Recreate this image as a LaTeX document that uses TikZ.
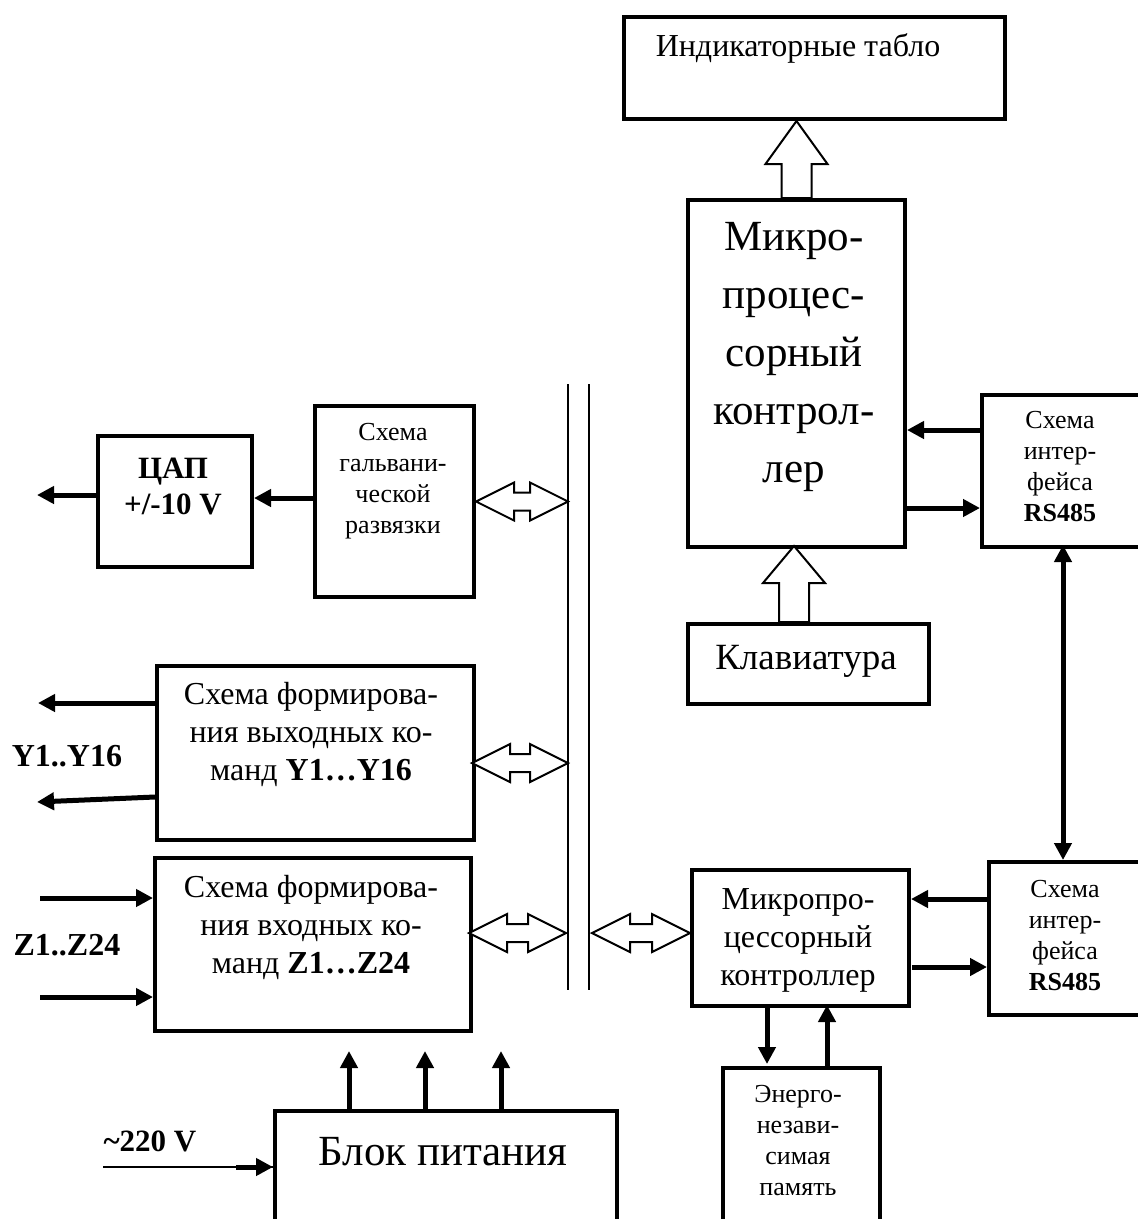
\documentclass[tikz,border=0pt]{standalone}
\usepackage{fontspec}
\setmainfont{Liberation Serif}
\usetikzlibrary{arrows.meta,calc}
\tikzset{
 box/.style={draw, line width=4pt, inner sep=0pt, anchor=north west},
 lbl/.style={inner sep=0pt, align=center},
 thickarr/.style={line width=5pt, -{Triangle[length=17pt,width=17pt]}},
 dblarr/.style={line width=5pt, {Triangle[length=17pt,width=17pt]}-{Triangle[length=17pt,width=17pt]}},
 hollow/.style={draw, line width=2pt, fill=white, line join=miter},
 busline/.style={line width=2pt},
}
\newcommand\fsz[2]{\fontsize{#1}{#2}\selectfont}
\newcommand\hollowH[2]{%
\draw[hollow] (#1) -- ($(#1)+(38,-19)$) -- ($(#1)+(38,-9)$) -- ($(#2)+(-38,-9)$) -- ($(#2)+(-38,-19)$) -- (#2) -- ($(#2)+(-38,19)$) -- ($(#2)+(-38,9)$) -- ($(#1)+(38,9)$) -- ($(#1)+(38,19)$) -- cycle;}
\newcommand\hollowU[3]{%
\draw[hollow] (#1) -- ($(#1)+(31,#3)$) -- ($(#1)+(15,#3)$) -- ($(#2)+(15,0)$) -- ($(#2)+(-15,0)$) -- ($(#1)+(-15,#3)$) -- ($(#1)+(-31,#3)$) -- cycle;}
\begin{document}
\begin{tikzpicture}[x=1pt,y=-1pt]
\useasboundingbox[fill=white] (0,0) rectangle (1138,1219);
\clip (0,0) rectangle (1138,1219);

% boxes
\node[box, minimum width=381pt, minimum height=102pt] (tablo) at (622,15) {};
\node[box, minimum width=217pt, minimum height=347pt] (mc) at (686,198) {};
\node[box, minimum width=241pt, minimum height=80pt] (kbd) at (686,622) {};
\node[box, minimum width=170pt, minimum height=152pt] (rs1) at (980,393) {};
\node[box, minimum width=159pt, minimum height=191pt] (gal) at (313,404) {};
\node[box, minimum width=154pt, minimum height=131pt] (dac) at (96,434) {};
\node[box, minimum width=317pt, minimum height=174pt] (ybox) at (155,664) {};
\node[box, minimum width=316pt, minimum height=173pt] (zbox) at (153,856) {};
\node[box, minimum width=217pt, minimum height=136pt] (mc2) at (690,868) {};
\node[box, minimum width=165pt, minimum height=153pt] (rs2) at (987,860) {};
\node[box, minimum width=157pt, minimum height=180pt] (mem) at (721,1066) {};
\node[box, minimum width=342pt, minimum height=140pt] (pwr) at (273,1109) {};

% texts
\node[lbl, font=\fsz{32}{38}] (tabloT) at (798,48) {Индикаторные табло};
\node[lbl, font=\fsz{43}{58}] (mcT) at (794,357) {Микро-\\процес-\\сорный\\контрол-\\лер};
\node[lbl, font=\fsz{37}{44}] (kbdT) at (806,661) {Клавиатура};
\node[lbl, font=\fsz{26}{31}] (rs1T) at (1060,467) {Схема\\интер-\\фейса\\\textbf{RS485}};
\node[lbl, font=\fsz{26}{31}] (galT) at (393,481) {Схема\\гальвани-\\ческой\\развязки};
\node[lbl, font=\bfseries\fsz{31}{36}] (dacT) at (173,486) {ЦАП\\+/-10 V};
\node[lbl, font=\fsz{32}{38}] (yT) at (311,734) {Схема формирова-\\ния выходных ко-\\манд \textbf{Y1…Y16}};
\node[lbl, font=\fsz{32}{38}] (zT) at (311,927) {Схема формирова-\\ния входных ко-\\манд \textbf{Z1…Z24}};
\node[lbl, font=\fsz{32}{38}] (mc2T) at (798,940) {Микропро-\\цессорный\\контроллер};
\node[lbl, font=\fsz{26}{31}] (rs2T) at (1065,936) {Схема\\интер-\\фейса\\\textbf{RS485}};
\node[lbl, font=\fsz{26}{31}] (memT) at (798,1141) {Энерго-\\незави-\\симая\\память};
\node[lbl, font=\fsz{43}{50}] (pwrT) at (443,1152) {Блок питания};
\node[lbl, font=\bfseries\fsz{32}{38}] (yL) at (67,756) {Y1..Y16};
\node[lbl, font=\bfseries\fsz{32}{38}] (zL) at (67,945) {Z1..Z24};
\node[lbl, font=\bfseries\fsz{31}{36}] (vL) at (150,1141) {\textasciitilde220 V};

% bus
\coordinate (busLt) at (568,384);
\coordinate (busLb) at (568,990);
\coordinate (busRt) at (589,384);
\coordinate (busRb) at (589,990);
\draw[busline] (busLt) -- (busLb);
\draw[busline] (busRt) -- (busRb);

% hollow arrows
\coordinate (h1t) at (mc.north |- tablo.south);
\hollowU{h1t}{mc.north}{43}
\coordinate (h2t) at (794,546);
\coordinate (h2b) at (794,622);
\hollowU{h2t}{h2b}{37}
\coordinate (gA) at (gal.east);
\coordinate (gB) at (gal.east -| busLt);
\hollowH{gA}{gB}
\coordinate (yA) at (472,763);
\coordinate (yB) at (568,763);
\hollowH{yA}{yB}
\coordinate (zA) at (469,933);
\coordinate (zB) at (566,933);
\hollowH{zA}{zB}
\coordinate (mA) at (592,933);
\coordinate (mB) at (mc2.west |- mA);
\hollowH{mA}{mB}

% thick arrows
\coordinate (dacOut) at (37,495);
\draw[thickarr] (dac.west |- dacOut) -- (dacOut);
\draw[thickarr] (gal.west |- 0,498) -- (dac.east |- 0,498);
\coordinate (yo1) at (38,703);
\coordinate (yo2) at (37,802);
\draw[thickarr] (ybox.west |- yo1) -- (yo1);
\draw[thickarr] (155,797) -- (yo2);
\coordinate (zi1) at (40,898);
\coordinate (zi2) at (40,997);
\draw[thickarr] (zi1) -- (zi1 -| zbox.west);
\draw[thickarr] (zi2) -- (zi2 -| zbox.west);
\draw[thickarr] (rs1.west |- 0,430) -- (mc.east |- 0,430);
\draw[thickarr] (mc.east |- 0,508) -- (rs1.west |- 0,508);
\draw[dblarr] (1063,545) -- (1063,860);
\draw[thickarr] (rs2.west |- 0,899) -- (mc2.east |- 0,899);
\draw[thickarr] (912,967) -- (rs2.west |- 0,967);
\draw[thickarr] (767,1004) -- (767,1064);
\draw[thickarr] (827,1066) -- (827,1005);
\foreach \px in {349,425,501} \draw[thickarr] (\px,1109) -- (\px,1051);
\coordinate (v220) at (103,1167);
\draw[line width=2pt] (v220) -- (pwr.west |- v220);
\draw[thickarr] ($(pwr.west |- v220)+(-37,0)$) -- (pwr.west |- v220);
\end{tikzpicture}
\end{document}
